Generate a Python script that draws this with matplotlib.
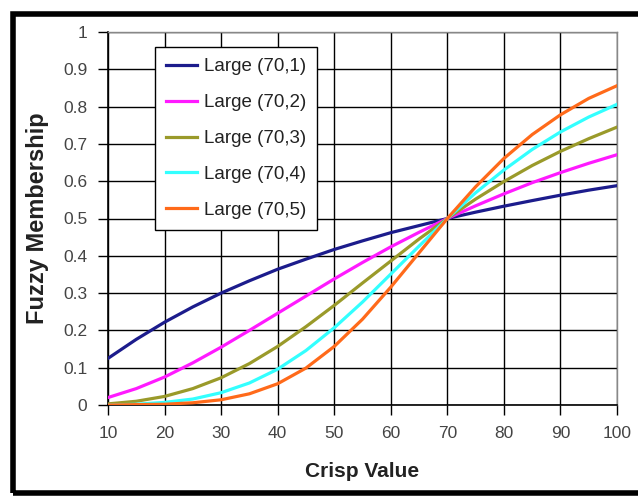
import matplotlib
matplotlib.use("Agg")
import matplotlib.pyplot as plt
from matplotlib.patches import Rectangle

plt.rcParams['font.family'] = ['Liberation Sans', 'DejaVu Sans']

x = [10, 15, 20, 25, 30, 35, 40, 45, 50, 55, 60, 65, 70, 75, 80, 85, 90, 95, 100]
large_1 = [0.125, 0.176, 0.222, 0.263, 0.300, 0.333, 0.364, 0.391, 0.417, 0.440,
           0.462, 0.481, 0.500, 0.517, 0.533, 0.548, 0.5625, 0.576, 0.588]
large_2 = [0.020, 0.044, 0.075, 0.113, 0.155, 0.200, 0.246, 0.292, 0.338, 0.382,
           0.424, 0.463, 0.500, 0.534, 0.566, 0.596, 0.623, 0.648, 0.671]
large_3 = [0.003, 0.010, 0.023, 0.044, 0.073, 0.111, 0.157, 0.210, 0.267, 0.327,
           0.386, 0.445, 0.500, 0.552, 0.599, 0.642, 0.680, 0.714, 0.745]
large_4 = [0.000, 0.002, 0.007, 0.016, 0.033, 0.059, 0.096, 0.146, 0.207, 0.276,
           0.351, 0.426, 0.500, 0.569, 0.630, 0.685, 0.732, 0.772, 0.806]
large_5 = [0.000, 0.001, 0.002, 0.006, 0.014, 0.030, 0.057, 0.099, 0.157, 0.230,
           0.316, 0.408, 0.500, 0.585, 0.661, 0.725, 0.778, 0.822, 0.856]

series = [large_1, large_2, large_3, large_4, large_5]
labels = ['Large (70,1)', 'Large (70,2)', 'Large (70,3)', 'Large (70,4)', 'Large (70,5)']
colors = ['#1c1c8c', '#ff1aff', '#9a9a2a', '#33ffff', '#ff6a1a']

x_ticks = [10, 20, 30, 40, 50, 60, 70, 80, 90, 100]
y_ticks = [0, 0.1, 0.2, 0.3, 0.4, 0.5, 0.6, 0.7, 0.8, 0.9, 1]
y_tick_labels = ['0', '0.1', '0.2', '0.3', '0.4', '0.5', '0.6', '0.7', '0.8', '0.9', '1']

fig = plt.figure(figsize=(6.38, 4.97), dpi=100)
ax = fig.add_axes([108/638, (497-405)/497, (617-108)/638, (405-32)/497])

for ys, lab, c in zip(series, labels, colors):
    ax.plot(x, ys, color=c, lw=2.3, label=lab, zorder=3)

ax.set_xlim(10, 100)
ax.set_ylim(0, 1)
ax.set_xticks(x_ticks)
ax.set_xticklabels([str(t) for t in x_ticks])
ax.set_yticks(y_ticks)
ax.set_yticklabels(y_tick_labels)
ax.grid(True, color='black', lw=1.0, zorder=1)
ax.tick_params(direction='out', length=7, width=1, colors='black', labelsize=12.5,
               labelcolor='#444444', pad=8)
for s in ['left', 'bottom']:
    ax.spines[s].set_color('black')
    ax.spines[s].set_linewidth(1.2)
for s in ['top', 'right']:
    ax.spines[s].set_color('#888888')
    ax.spines[s].set_linewidth(1.0)

ax.set_xlabel('Crisp Value', fontsize=15, fontweight='bold', labelpad=15, color='#222222')
ax.set_ylabel('Fuzzy Membership', fontsize=17, fontweight='bold', labelpad=10, color='#222222')

leg = ax.legend(loc='upper left', bbox_to_anchor=((155-108)/509, (405-47)/373),
                fontsize=13.5, frameon=True, fancybox=False, edgecolor='black',
                framealpha=1, handlelength=1.65, handletextpad=0.35, borderpad=0.6,
                labelspacing=1.0, borderaxespad=0)
leg.get_frame().set_linewidth(1.0)
for t in leg.get_texts():
    t.set_color('#222222')

fig.patches.append(Rectangle((13/638, 4/497), 1.0, (493-14)/497,
                             transform=fig.transFigure, fill=False,
                             edgecolor='black', lw=4, clip_on=False))

fig.savefig('out.png', dpi=100)
